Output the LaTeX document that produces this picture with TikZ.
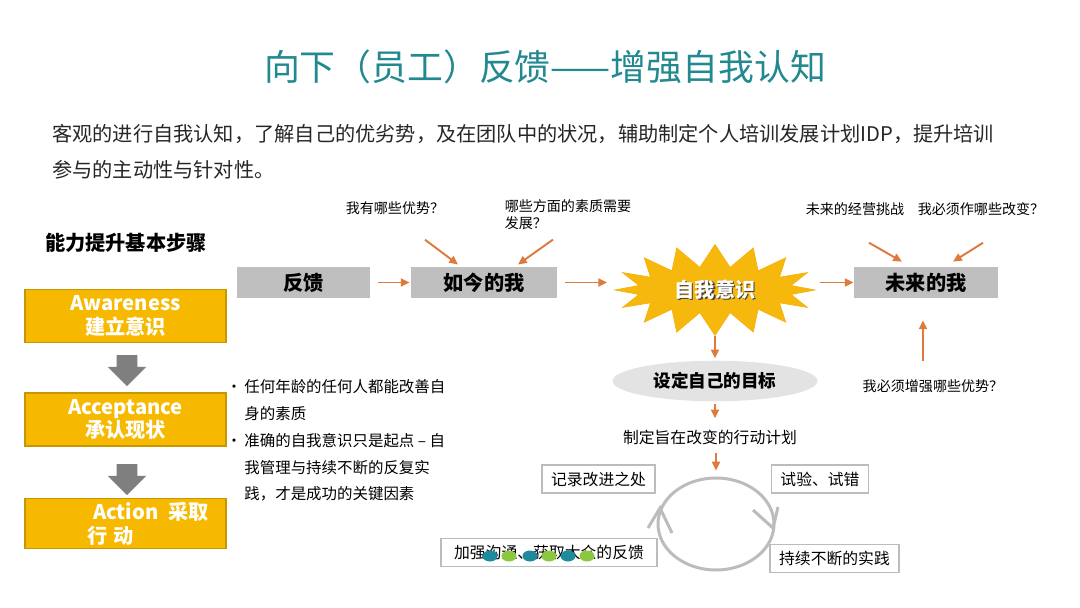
\documentclass[tikz,border=0pt]{standalone}
\usepackage{fontspec}
\setmainfont{Noto Sans CJK SC}
\definecolor{titleteal}{HTML}{21898F}
\definecolor{stepyellow}{HTML}{F7B900}
\definecolor{stepedge}{HTML}{C89600}
\definecolor{boxgray}{HTML}{BFBFBF}
\definecolor{arrowgray}{HTML}{7F7F7F}
\definecolor{arrorange}{HTML}{DD7A3C}
\definecolor{goalgray}{HTML}{E3E3E3}
\definecolor{linegray}{HTML}{BCBCBC}
\definecolor{burstfill}{HTML}{F6B80C}
\definecolor{dotteal}{HTML}{1D8B9D}
\definecolor{dotgreen}{HTML}{8DC63F}
\usetikzlibrary{
  shapes.geometric, shapes.symbols, shapes.arrows,
  arrows.meta, positioning, calc
}

\begin{document}
\begin{tikzpicture}[
  x=0.02cm, y=-0.02cm,
  title/.style={font=\fontsize{20.4}{24}\selectfont, text=titleteal},
  intro/.style={font=\fontsize{11.5}{13}\selectfont, text=black!85, inner sep=0pt},
  heading/.style={font=\fontsize{11.5}{13}\selectfont\bfseries},
  stepbox/.style={rectangle, draw=stepedge, line width=0.8pt,
    fill=stepyellow, minimum width=4.02cm, minimum height=0.99cm,
    align=center, text=white, font=\fontsize{11.5}{13.6}\selectfont\bfseries},
  blockarr/.style={single arrow, fill=arrowgray, shape border rotate=270,
    inner sep=0.2cm, minimum height=0.62cm, single arrow head extend=0.18cm},
  bullets/.style={align=left, inner sep=0pt,
    font=\fontsize{8.8}{15.3}\selectfont},
  graybox/.style={rectangle, fill=boxgray, minimum width=2.66cm,
    minimum height=0.62cm, font=\fontsize{11.5}{13}\selectfont\bfseries},
  burst/.style={starburst, fill=burstfill, draw=burstfill!90!orange,
    starburst points=16, starburst point height=0.45cm,
    random starburst=0, minimum width=4cm, minimum height=1.76cm,
    font=\fontsize{11.5}{13}\selectfont\bfseries, text=white},
  goal/.style={ellipse, fill=goalgray, minimum width=4.1cm,
    minimum height=0.66cm, font=\fontsize{10}{12}\selectfont\bfseries},
  plan/.style={font=\fontsize{9}{11}\selectfont},
  cycle/.style={ellipse, draw=linegray, line width=1.7pt,
    minimum width=2.32cm, minimum height=1.84cm},
  cyclearr/.style={draw=linegray, line width=1.7pt},
  note/.style={rectangle, draw=linegray, line width=1pt, fill=white,
    inner xsep=0.18cm, minimum height=0.56cm,
    font=\fontsize{9}{11}\selectfont},
  ask/.style={font=\fontsize{8}{9.5}\selectfont, align=left},
  arr/.style={-{Triangle[length=5pt, width=4.5pt]}, line width=1.1pt,
    draw=arrorange}
]
  \useasboundingbox[fill=white] (0,0) rectangle (1080,608);

  % title and intro
  \node[title] (head) at (545,67) {向下（员工）反馈——增强自我认知};
  \node[intro, anchor=west] (intro1) at (52,134)
    {客观的进行自我认知，了解自己的优劣势，及在团队中的状况，辅助制定个人培训发展计划IDP，提升培训};
  \node[intro, anchor=west] (intro2) at (52,170) {参与的主动性与针对性。};

  % steps on the left
  \node[heading] (steps) at (126,243) {能力提升基本步骤};
  \node[stepbox] (aware) at (125.5,316) {Awareness\\建立意识};
  \node[stepbox] (accept) at (125.5,419.5) {Acceptance\\承认现状};
  \node[stepbox, text width=4.02cm, inner sep=0pt, align=left] (action)
    at (125.5,523.5) {\hspace*{1.36cm}Action\enspace 采取\\\hspace*{1.24cm}行 动};
  \node[blockarr] (down1) at (127,365.5) {};
  \node[blockarr] (down2) at (127,474.5) {};

  \node[bullets, anchor=north west] (notes) at (226,379)
    {•\,任何年龄的任何人都能改善自\\
     \phantom{•\,}身的素质\\
     •\,准确的自我意识只是起点 – 自\\
     \phantom{•\,}我管理与持续不断的反复实\\
     \phantom{•\,}践，才是成功的关键因素};

  % main row
  \node[graybox] (fb) at (303.5,282.5) {反馈};
  \node[graybox, minimum width=2.92cm] (now) at (484,282.5) {如今的我};
  \node[burst] (star) at (715,290)
    {\makebox[0pt][l]{\hspace{0.7pt}\raisebox{-0.7pt}{\color{black!75}自我意识}}自我意识};
  \node[graybox, minimum width=2.88cm] (future) at (926,282.5) {未来的我};

  % questions
  \node[ask] (q1) at (395,208) {我有哪些优势？};
  \node[ask] (q2) at (568,214.5) {哪些方面的素质需要\\发展？};
  \node[ask] (q3) at (855,209) {未来的经营挑战};
  \node[ask] (q4) at (981,209) {我必须作哪些改变？};
  \node[ask] (q5) at (933,386) {我必须增强哪些优势？};

  % goal and cycle
  \node[goal] (goal) at (715,381) {设定自己的目标};
  \node[plan] (plan) at (710,437) {制定旨在改变的行动计划};
  \node[cycle] (cycle) at (716,524) {};
  \draw[cyclearr] ($(cycle.center)+(-68,4)$) -- ($(cycle.center)+(-56,-16)$)
    -- ($(cycle.center)+(-44,9)$);
  \draw[cyclearr] ($(cycle.center)+(37,-14)$) -- ($(cycle.center)+(57,4)$)
    -- ($(cycle.center)+(62,-17)$);

  \node[note] (record) at (598.5,479) {记录改进之处};
  \node[note] (trial) at (820,479) {试验、试错};
  \node[note, minimum width=4.32cm] (comm) at (549,552.5) {加强沟通、获取大众的反馈};
  \node[note] (practice) at (834.5,558.5) {持续不断的实践};
  \foreach \dx/\dc in {490/dotteal, 509/dotgreen, 530/dotteal,
                       549/dotgreen, 568/dotteal, 587/dotgreen}
    \fill[\dc] (\dx,556) ellipse (7.5 and 5.5);

  % arrows
  \draw[arr, shorten <=0.16cm, shorten >=0.02cm] (fb) -- (now);
  \draw[arr, shorten <=0.16cm, shorten >=0.12cm] (now.east) -- (now.east -| star.west);
  \draw[arr, shorten <=0.06cm] (future.west -| star.east) -- (future.west);
  \draw[arr] ($(q1.south)+(30,19)$) -- ($(now.north)+(-26,-2)$);
  \draw[arr] ($(q2.south)+(-15,4)$) -- ($(now.north)+(34,-2)$);
  \draw[arr] ($(q3.south)+(14,21)$) -- ($(future.north)+(-24,-5)$);
  \draw[arr] ($(q4.south)+(2,21)$) -- ($(future.north)+(27,-5)$);
  \draw[arr] ($(q5.north)+(-10,-12)$) -- ($(future.south)+(-3,22)$);
  \draw[arr, shorten >=0.04cm] (star.south) -- (goal.north);
  \draw[arr, shorten <=0.04cm, shorten >=0.1cm] (goal.south) -- (goal.south |- plan.north);
  \draw[arr, shorten <=0.04cm, shorten >=0.12cm] (plan.south -| cycle.north) -- (cycle.north);
\end{tikzpicture}
\end{document}
